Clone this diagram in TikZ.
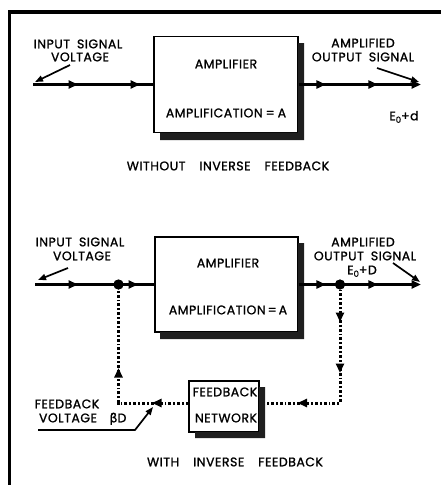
\documentclass[tikz,border=0pt]{standalone}
\usepackage{fontspec}
\setmainfont{Poppins}[LetterSpace=4,FakeBold=1.2]
\newfontfamily\grk{DejaVu Sans}[FakeBold=1.2]
\usetikzlibrary{arrows.meta,decorations.markings}
\definecolor{shadowc}{gray}{0.12}
\newcommand\labfont{\fontsize{12.5}{13}\selectfont\spaceskip=7pt plus 1pt\relax}
\newcommand\capfont{\fontsize{12.5}{13}\selectfont\spaceskip=14pt plus 1pt\relax}
\begin{document}
\begin{tikzpicture}[x=1pt,y=-1pt,
 lab/.style={inner sep=0pt, text height=8.6pt, text depth=0pt, font=\labfont},
 captext/.style={lab, font=\capfont},
 sig/.style={line width=3.2pt},
 fbl/.style={line width=3pt, dash pattern=on 3pt off 2pt on 1.8pt off 2pt},
 lead/.style={line width=1.7pt, -{Triangle[length=8pt,width=6pt]}},
 am/.style={postaction={decorate,decoration={markings,mark=at position #1 with {\arrow{Triangle[length=9.5pt,width=8pt]}}}}},
 ampbox/.style={draw, line width=1.8pt, fill=white, minimum width=144pt, minimum height=96pt, inner sep=0pt},
 fbbox/.style={draw, line width=1.8pt, fill=white, minimum width=70pt, minimum height=51pt, inner sep=0pt},
 shadowfill/.style={fill=shadowc},
 dot/.style={circle, fill=black, inner sep=0pt, minimum size=10pt},
]
\useasboundingbox (0,0) rectangle (441,485);
% frame
\coordinate (fa) at (9.5,485);
\coordinate (fb) at (9.5,12);
\coordinate (fc) at (441,12);
\draw[line width=3.8pt] (fa) -- (fb) -- (fc);

% ---------- top: without feedback ----------
\node[ampbox] (amp1) at (226,84.5) {};
\fill[shadowfill] (298,43) -- (304,43) -- (304,140) -- (160,140) -- (160,132.5) -- (298,132.5) -- cycle;
\node[lab] (amp1t) at (226,64) {AMPLIFIER};
\node[lab] (amp1g) at (226,113) {AMPLIFICATION\hspace{3pt}=\hspace{3pt}A};
\coordinate (in1) at (33,84.5);
\coordinate (out1) at (421,84.5);
\draw[sig, am=45pt, am=107pt] (in1) -- (amp1.west);
\draw[sig, am=27pt, am=79pt, -{Triangle[length=9.5pt,width=8pt]}] (amp1.east) -- (out1);
\node[lab] (i1a) at (78,44) {INPUT SIGNAL};
\node[lab] (i1b) at (80,57) {VOLTAGE};
\node[lab] (o1a) at (363,43) {AMPLIFIED};
\node[lab] (o1b) at (363,57) {OUTPUT SIGNAL};
\node[lab] (e1) at (404,116) {E\raisebox{-2.5pt}{\fontsize{8.5}{8.5}\selectfont 0}+d};
\coordinate (l1a) at (70,65); \coordinate (l1b) at (35,82);
\draw[lead] (l1a) -- (l1b);
\coordinate (l2a) at (377,68); \coordinate (l2b) at (419,82);
\draw[lead] (l2a) -- (l2b);
\node[captext] (cap1) at (228,166) {WITHOUT INVERSE FEEDBACK};

% ---------- bottom: with feedback ----------
\node[ampbox, minimum width=143pt, minimum height=95pt] (amp2) at (226.5,284.5) {};
\fill[shadowfill] (298,243) -- (304,243) -- (304,339) -- (160,339) -- (160,332) -- (298,332) -- cycle;
\node[lab] (amp2t) at (228,263) {AMPLIFIER};
\node[lab] (amp2g) at (228,310) {AMPLIFICATION\hspace{2pt}=\hspace{2pt}A};
\node[fbbox] (fbn) at (224,406.5) {};
\fill[shadowfill] (259,387) -- (265,387) -- (265,438) -- (195,438) -- (195,432) -- (259,432) -- cycle;
\node[lab] (fbt) at (225,392) {FEEDBACK};
\node[lab] (fbg) at (226,418) {NETWORK};

\coordinate (in2) at (35,284.5);
\coordinate (out2) at (421,284.5);
\node[dot] (j1) at (118.5,284.5) {};
\node[dot] (j2) at (340,284.5) {};
\coordinate (fbr) at (265,403);
\coordinate (fbl) at (189,403);
\draw[sig, am=43pt, am=103pt] (in2) -- (amp2.west);
\draw[sig, am=27pt, am=79pt, -{Triangle[length=9.5pt,width=8pt]}] (amp2.east) -- (out2);
\draw[fbl, am=37.5pt, am=88.5pt, am=161pt] (j2.center) |- (fbr);
\draw[fbl, am=37pt, am=105.5pt] (fbl) -| (j1.center);
\node[dot] at (j1) {};
\node[dot] at (j2) {};
\node[lab] (i2a) at (80,242) {INPUT SIGNAL};
\node[lab] (i2b) at (82,256) {VOLTAGE};
\node[lab] (o2a) at (363,242) {AMPLIFIED};
\node[lab] (o2b) at (365,256) {OUTPUT SIGNAL};
\node[lab] (e2) at (362,270) {E\raisebox{-2.5pt}{\fontsize{8.5}{8.5}\selectfont 0}+D};
\coordinate (l3a) at (68,268); \coordinate (l3b) at (38,280);
\draw[lead] (l3a) -- (l3b);
\coordinate (l4a) at (393,263); \coordinate (l4b) at (420,282);
\draw[lead] (l4a) -- (l4b);
\node[lab] (fva) at (67,404) {FEEDBACK};
\node[lab] (fvb) at (68,418) {VOLTAGE};
\node[lab] (bd) at (118,418) {{\grk β}D};
\coordinate (l5a) at (38,430); \coordinate (l5b) at (135,430); \coordinate (l5c) at (153,407);
\draw[lead] (l5a) -- (l5b) -- (l5c);
\node[captext] (cap2) at (235,462) {WITH INVERSE FEEDBACK};
\end{tikzpicture}
\end{document}
